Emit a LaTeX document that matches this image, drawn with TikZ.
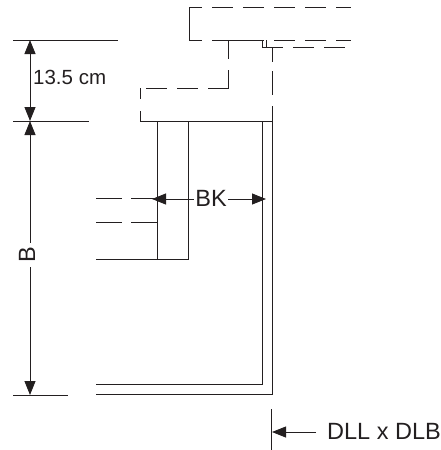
\documentclass[tikz,border=0pt]{standalone}
\usepackage{fontspec}
\setmainfont{Liberation Sans}
\usepackage{xcolor}
\usetikzlibrary{arrows.meta, calc}
\definecolor{inkline}{HTML}{231F20}
\tikzset{
	wall/.style={inkline, line width=0.9pt},
	hidden/.style={inkline, line width=0.9pt, dash pattern=on 21pt off 10pt},
	dim/.style={inkline, line width=0.8pt, {Triangle[length=14pt,width=11pt]}-{Triangle[length=14pt,width=11pt]}},
	lbl/.style={inkline, inner sep=1pt, font=\fontsize{20.5}{24}\selectfont},
	biglbl/.style={inkline, inner sep=1pt, font=\fontsize{23.5}{28}\selectfont}
}
\begin{document}
\begin{tikzpicture}[x=1pt, y=-1pt]
	\useasboundingbox (0,0) rectangle (441,450);

	% extension lines on the left
	\draw [wall] (13,40) -- (118,40);
	\draw [wall] (13,121) -- (89,121);
	\draw [wall] (13,395) -- (68,395);

	\coordinate (T) at (30,40);
	\coordinate (M) at (30,121);
	\coordinate (E) at (30,395);

	\draw [dim] (T) -- (M);
	\draw [dim] (M) -- (E);
	\node [lbl, anchor=west] (height) at (32,77) {13.5 cm};
	\node [biglbl, rotate=90, fill=white, inner xsep=4pt] (depth) at (27,255) {B};

	% upper unit
	\draw [wall] (189,40) -- (189,7);
	\draw [hidden, dash phase=8pt] (189,7) -- (351,7);
	\draw [hidden, dash phase=8pt] (189,40) -- (351,40);
	\draw [wall] (228.5,40) -- (262,40);
	\draw [wall] (262,40) -- (262,47);
	\draw [wall] (266,40) -- (266,47);
	\draw [hidden] (262,47) -- (351,47);

	% step
	\draw [wall] (228.5,40) -- (228.5,59);
	\draw [wall] (228.5,70) -- (228.5,88);
	\draw [hidden] (228.5,88) -- (140,88);
	\draw [wall] (140,88) -- (140,99);
	\draw [wall] (140,111) -- (140,121);

	% shaft
	\draw [wall] (272,47) -- (272,62);
	\draw [wall] (272,71) -- (272,95);
	\draw [wall] (96,394) -- (272,394) -- (272,106);
	\draw [wall] (96,384) -- (262.5,384) -- (262.5,121);
	\draw [wall] (140,121) -- (272,121);

	% inner block
	\draw [wall] (157,121) -- (157,259);
	\draw [wall] (96,259) -- (188,259) -- (188,121);
	\draw [hidden, dash pattern=on 26pt off 9pt] (96,198) -- (157,198);
	\draw [hidden, dash pattern=on 26pt off 9pt] (96,222) -- (157,222);

	\coordinate (L) at (152,199);
	\coordinate (R) at (266,199);
	\draw [dim] (L) -- (R);
	\node [biglbl, fill=white] (width) at (211,198) {BK};

	% bottom note
	\draw [wall] (271,409) -- (271,450);
	\coordinate (P) at (272,432);
	\coordinate (Q) at (316,432);
	\draw [inkline, line width=0.8pt, -{Triangle[length=14pt,width=11pt]}] (Q) -- (P);
	\node [biglbl, anchor=west] (size) at (326,431) {DLL x DLB};
\end{tikzpicture}
\end{document}
